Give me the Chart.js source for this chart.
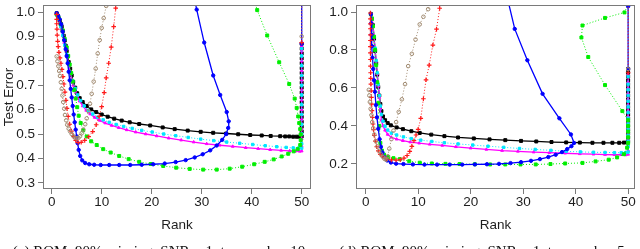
<!DOCTYPE html>
<html>
<head>
<meta charset="utf-8">
<script src="https://cdn.jsdelivr.net/npm/chart.js@4.4.1/dist/chart.umd.min.js"></script>
<style>
  html, body { margin: 0; padding: 0; background: #fff; }
  body { width: 640px; height: 249px; position: relative; overflow: hidden; }
  .panel { position: absolute; top: 0; width: 320px; height: 249px; }
  .caption {
    position: absolute; top: 244px; font-family: "Liberation Serif", "DejaVu Serif", serif;
    font-size: 15px; line-height: 15px; white-space: nowrap; color: #111; text-align: center;
  }
</style>
</head>
<body>
<div class="panel" style="left:0"><canvas id="chartC" width="320" height="249"></canvas></div>
<div class="panel" style="left:320px"><canvas id="chartD" width="320" height="249"></canvas></div>
<div class="caption" style="left:0;width:318px">(c) ROM, 90% missing, SNR = 1, true rank = 10</div>
<div class="caption" style="left:322px;width:320px">(d) ROM, 90% missing, SNR = 1, true rank = 5</div>
<script>
// --- tick labels ---
const rankTicks = [0, 10, 20, 30, 40, 50];
const errTicksC = [0.3, 0.4, 0.5, 0.6, 0.7, 0.8, 0.9, 1.0];
const errTicksD = [0.2, 0.4, 0.6, 0.8, 1.0];

// --- panel (c): [rank, test error] along each path ---
const blackC = [
  [1,0.995],[1.2,0.985],[1.4,0.975],[1.6,0.965],[1.8,0.952],[2.0,0.94],[2.2,0.922],[2.4,0.903],
  [2.6,0.883],[2.8,0.862],[3.0,0.84],[3.2,0.818],[3.4,0.795],[3.7,0.768],[4.0,0.74],[4.3,0.714],
  [4.7,0.69],[5.1,0.667],[5.6,0.647],[6.2,0.631],[7.0,0.615],[7.9,0.601],[8.9,0.59],[10.0,0.58],
  [11.2,0.571],[12.5,0.563],[14.0,0.555],[15.6,0.548],[17.5,0.541],[19.7,0.535],[22.2,0.527],
  [24.6,0.52],[27.2,0.514],[29.8,0.509],[32.3,0.505],[34.9,0.502],[37.3,0.499],[39.7,0.496],
  [42.0,0.494],[43.8,0.492],[45.7,0.491],[46.7,0.49],[47.5,0.49],[48.3,0.489],[49.0,0.489],
  [49.6,0.489],[50,0.49],[50,0.51],[50,0.53],[50,0.55],[50,0.57],[50,0.59],[50,0.61],[50,0.63],
  [50,0.65],[50,0.67],[50,0.69],[50,0.71],[50,0.73],[50,0.75],[50,0.77],[50,0.79],[50,0.81],
  [50,0.83],[50,0.85],[50,0.87]
];
const magentaC = [
  [1,0.99],[1.3,0.975],[1.6,0.955],[1.9,0.93],[2.2,0.905],[2.5,0.875],[2.8,0.845],[3.1,0.815],
  [3.4,0.785],[3.7,0.755],[4.0,0.725],[4.3,0.7],[4.7,0.675],[5.1,0.655],[5.6,0.635],[6.2,0.615],
  [6.9,0.597],[7.7,0.582],[8.6,0.568],[9.6,0.556],[10.7,0.545],[12.0,0.535],[13.4,0.526],
  [15.0,0.517],[16.8,0.508],[18.8,0.5],[21.0,0.492],[23.4,0.483],[25.9,0.475],[28.4,0.467],
  [31.0,0.46],[33.6,0.454],[36.2,0.449],[38.8,0.444],[41.3,0.44],[43.7,0.436],[45.9,0.433],
  [47.6,0.431],[48.8,0.43],[49.6,0.429],[50,0.43],[50,0.45],[50,0.48],[50,0.52],[50,0.56],
  [50,0.6],[50,0.64],[50,0.68],[50,0.72],[50,0.76],[50,0.8],[50,0.84],[50,0.86]
];
const cyanC = [
  [1,0.99],[1.4,0.97],[1.8,0.94],[2.2,0.905],[2.6,0.865],[3.0,0.825],[3.4,0.787],[3.8,0.75],
  [4.2,0.717],[4.7,0.687],[5.2,0.66],[5.8,0.637],[6.5,0.615],[7.3,0.597],[8.2,0.582],[9.2,0.569],
  [10.3,0.558],[11.5,0.548],[12.9,0.539],[14.4,0.531],[16.1,0.523],[18.0,0.515],[20.1,0.508],
  [22.4,0.5],[24.8,0.493],[27.3,0.486],[29.8,0.479],[32.4,0.473],[35.0,0.467],[37.6,0.462],
  [40.2,0.457],[42.7,0.452],[45.0,0.448],[46.9,0.445],[48.3,0.443],[49.3,0.442],[50,0.442],
  [50,0.46],[50,0.5],[50,0.54],[50,0.58],[50,0.62],[50,0.66],[50,0.7],[50,0.74],[50,0.78],
  [50,0.82],[50,0.85]
];
const greenC = [
  [1,0.99],[1.4,0.975],[1.8,0.95],[2.2,0.925],[2.6,0.89],[3.0,0.855],[3.3,0.82],[3.6,0.785],
  [3.9,0.75],[4.2,0.715],[4.5,0.68],[4.8,0.645],[5.1,0.61],[5.4,0.575],[5.8,0.545],[6.3,0.515],
  [7.0,0.49],[7.9,0.47],[9.0,0.455],[10.3,0.438],[11.8,0.424],[13.5,0.41],[15.4,0.397],
  [17.5,0.386],[19.8,0.377],[22.3,0.369],[24.9,0.362],[27.6,0.357],[30.3,0.354],[33.0,0.354],
  [35.6,0.358],[38.1,0.366],[40.5,0.376],[42.6,0.386],[44.4,0.396],[46.0,0.408],[47.3,0.419],
  [48.4,0.429],[49.2,0.438],[49.7,0.455],[49.8,0.475],[49.8,0.498],[49.7,0.52],[49.5,0.545],
  [49.3,0.572],[49.0,0.607],[48.6,0.645],[47.5,0.705],[45.5,0.794],[43.1,0.904],[41.1,1.008],
  [40.5,1.05]
];
const blueC = [
  [1,0.995],[1.3,0.985],[1.6,0.97],[1.9,0.95],[2.2,0.92],[2.5,0.885],[2.8,0.848],[3.0,0.82],
  [3.2,0.79],[3.4,0.755],[3.6,0.72],[3.8,0.685],[4.0,0.65],[4.2,0.615],[4.4,0.58],[4.6,0.548],
  [4.8,0.518],[5.0,0.49],[5.2,0.462],[5.4,0.435],[5.7,0.41],[6.1,0.392],[6.7,0.381],[7.5,0.376],
  [8.5,0.374],[9.8,0.373],[11.5,0.373],[13.5,0.373],[15.7,0.373],[18.0,0.374],[20.3,0.376],
  [22.6,0.379],[24.8,0.385],[26.8,0.393],[28.6,0.404],[30.2,0.417],[31.7,0.433],[33.0,0.453],
  [34.1,0.476],[34.9,0.5],[35.3,0.525],[35.4,0.552],[35.0,0.59],[33.7,0.66],[32.3,0.74],
  [30.5,0.875],[29.0,1.01],[28.4,1.07],[50,1.07],[50,0.87]
];
const redC = [
  [1,0.99],[1,0.97],[1,0.952],[1.05,0.93],[1.1,0.905],[1.2,0.88],[1.3,0.858],[1.45,0.835],
  [1.65,0.812],[1.85,0.79],[2.05,0.765],[2.25,0.735],[2.45,0.705],[2.65,0.672],[2.85,0.638],
  [3.05,0.605],[3.3,0.572],[3.6,0.54],[3.95,0.512],[4.35,0.49],[4.8,0.474],[5.3,0.465],
  [5.9,0.466],[6.6,0.474],[7.4,0.489],[8.2,0.51],[8.9,0.538],[9.5,0.572],[10.0,0.612],
  [10.5,0.67],[10.9,0.73],[11.4,0.79],[11.9,0.856],[12.4,0.94],[12.8,1.016],[13.1,1.07],
  [50,1.07],[50,0.875]
];
const brownC = [
  [1,0.818],[1.15,0.798],[1.33,0.778],[1.5,0.758],[1.66,0.738],[1.83,0.712],[2.0,0.685],
  [2.15,0.658],[2.3,0.631],[2.5,0.604],[2.66,0.578],[2.9,0.556],[3.1,0.538],[3.4,0.522],
  [3.66,0.511],[4.0,0.5],[4.33,0.491],[4.66,0.485],[5.0,0.482],[5.33,0.484],[5.66,0.491],
  [6.0,0.503],[6.33,0.518],[6.7,0.54],[7.0,0.564],[7.33,0.594],[7.66,0.624],[8.0,0.665],
  [8.4,0.715],[8.8,0.768],[9.2,0.83],[9.6,0.885],[10.0,0.935],[10.4,0.975],[10.9,1.025],
  [11.2,1.07],[50,1.07],[50,0.9]
];

// --- panel (d) ---
const blackD = [
  [1,0.99],[1.2,0.965],[1.4,0.93],[1.6,0.86],[1.8,0.795],[2.0,0.73],[2.2,0.67],[2.4,0.605],
  [2.6,0.56],[2.8,0.515],[3.0,0.478],[3.3,0.45],[3.7,0.43],[4.2,0.415],[4.8,0.403],[5.9,0.392],
  [7.1,0.383],[8.7,0.372],[10.3,0.363],[12.5,0.354],[15.0,0.346],[17.6,0.339],[20.6,0.334],
  [23.6,0.329],[26.6,0.325],[29.6,0.321],[32.5,0.318],[35.4,0.315],[38.2,0.313],[40.8,0.312],
  [43.2,0.311],[45.3,0.311],[47.0,0.311],[48.3,0.311],[49.2,0.312],[49.8,0.313],[50,0.32],
  [50,0.34],[50,0.36],[50,0.38],[50,0.4],[50,0.42],[50,0.44],[50,0.46],[50,0.48],[50,0.5],
  [50,0.52],[50,0.54],[50,0.56],[50,0.58],[50,0.6],[50,0.62],[50,0.64],[50,0.66],[50,0.68],
  [50,0.7]
];
const magentaD = [
  [1,0.99],[1.2,0.965],[1.4,0.925],[1.6,0.87],[1.8,0.805],[2.0,0.74],[2.2,0.675],[2.4,0.61],
  [2.6,0.55],[2.8,0.49],[3.0,0.43],[3.3,0.4],[3.7,0.377],[4.2,0.355],[4.9,0.34],[5.9,0.33],
  [7.1,0.322],[8.5,0.315],[10.2,0.309],[12.2,0.303],[14.6,0.297],[17.2,0.29],[20.0,0.283],
  [23.0,0.276],[26.0,0.27],[29.0,0.266],[32.0,0.262],[35.0,0.259],[38.0,0.256],[40.8,0.253],
  [43.4,0.251],[45.6,0.249],[47.4,0.248],[48.7,0.248],[49.5,0.247],[50,0.25],[50,0.27],
  [50,0.3],[50,0.33],[50,0.36],[50,0.39],[50,0.42],[50,0.45],[50,0.48],[50,0.51],[50,0.54],
  [50,0.57],[50,0.6],[50,0.63],[50,0.67]
];
const cyanD = [
  [1,0.99],[1.2,0.965],[1.4,0.925],[1.6,0.87],[1.8,0.81],[2.0,0.745],[2.2,0.68],[2.4,0.62],
  [2.6,0.56],[2.8,0.505],[3.0,0.46],[3.3,0.425],[3.7,0.398],[4.2,0.378],[4.9,0.362],[5.9,0.352],
  [7.2,0.342],[8.7,0.333],[10.5,0.325],[12.6,0.318],[15.0,0.311],[17.6,0.305],[20.4,0.299],
  [23.3,0.293],[26.3,0.287],[29.3,0.281],[32.3,0.276],[35.3,0.271],[38.2,0.266],[40.9,0.263],
  [43.4,0.261],[45.6,0.26],[47.4,0.259],[48.7,0.259],[49.5,0.259],[50,0.262],[50,0.29],
  [50,0.32],[50,0.35],[50,0.38],[50,0.41],[50,0.44],[50,0.47],[50,0.5],[50,0.53],[50,0.56],
  [50,0.59],[50,0.62],[50,0.66]
];
const greenD = [
  [1,0.99],[1.2,0.965],[1.4,0.925],[1.6,0.87],[1.8,0.8],[2.0,0.72],[2.2,0.63],[2.4,0.52],
  [2.6,0.4],[2.8,0.31],[3.1,0.27],[3.5,0.248],[4.3,0.236],[5.3,0.23],[6.5,0.225],[8.3,0.214],
  [10.3,0.206],[12.6,0.202],[15.2,0.2],[17.9,0.199],[20.8,0.198],[23.7,0.197],[26.6,0.197],
  [29.5,0.197],[32.4,0.197],[35.2,0.199],[38.0,0.202],[41.3,0.205],[43.8,0.213],[46.3,0.222],
  [47.9,0.234],[49.2,0.251],[49.8,0.285],[50,0.31],[50,0.34],[50,0.37],[50,0.4],[50,0.43],
  [48.9,0.478],[45.6,0.615],[42.4,0.763],[41.1,0.866],[41.3,0.929],[45.6,0.969],[49.3,0.998],
  [50,1.04],[50,1.1]
];
const blueD = [
  [1,0.99],[1.05,0.94],[1.1,0.88],[1.2,0.82],[1.3,0.76],[1.45,0.7],[1.6,0.64],[1.76,0.58],
  [1.95,0.51],[2.15,0.445],[2.4,0.385],[2.65,0.33],[2.9,0.29],[3.2,0.26],[3.6,0.235],[4.1,0.218],
  [4.8,0.207],[5.8,0.201],[7.2,0.199],[9.0,0.197],[11.2,0.196],[13.6,0.196],[16.0,0.196],
  [18.4,0.196],[20.8,0.197],[23.1,0.198],[25.4,0.2],[27.6,0.204],[29.6,0.209],[31.5,0.216],
  [33.2,0.225],[34.8,0.236],[36.2,0.248],[37.4,0.262],[38.4,0.278],[39.2,0.293],[39.7,0.31],
  [39.1,0.355],[36.9,0.44],[33.7,0.569],[30.8,0.746],[28.4,0.911],[27.2,1.05],[27.0,1.1],
  [50,1.1],[50,1.03],[50,0.7]
];
const redD = [
  [0.9,0.995],[0.9,0.964],[0.9,0.938],[0.9,0.912],[0.9,0.88],[0.9,0.85],[0.9,0.818],[0.9,0.785],
  [0.92,0.75],[0.92,0.715],[0.95,0.68],[0.97,0.65],[1.0,0.62],[1.05,0.585],[1.1,0.55],
  [1.15,0.515],[1.2,0.48],[1.3,0.445],[1.4,0.41],[1.5,0.38],[1.65,0.35],[1.85,0.32],[2.1,0.29],
  [2.4,0.268],[2.8,0.25],[3.3,0.236],[4.0,0.226],[4.9,0.221],[5.8,0.22],[6.6,0.222],[7.3,0.23],
  [7.9,0.244],[8.4,0.266],[8.8,0.292],[9.2,0.322],[9.6,0.352],[10.0,0.382],[10.5,0.44],
  [11.0,0.543],[11.5,0.643],[12.1,0.72],[12.8,0.826],[13.5,0.91],[14.1,1.02],[14.4,1.1],
  [50,1.1],[50,0.68]
];
const brownD = [
  [0.6,0.59],[0.7,0.56],[0.8,0.526],[0.95,0.49],[1.1,0.457],[1.25,0.42],[1.44,0.388],
  [1.65,0.355],[1.95,0.32],[2.25,0.292],[2.6,0.268],[2.95,0.25],[3.3,0.236],[3.6,0.226],
  [3.9,0.222],[4.2,0.24],[4.5,0.28],[4.9,0.33],[5.3,0.375],[5.8,0.42],[6.3,0.474],[6.9,0.54],
  [7.5,0.62],[8.1,0.715],[8.8,0.78],[9.5,0.855],[10.3,0.935],[11.0,0.975],[11.9,1.015],
  [12.5,1.1],[50,1.1],[50,0.7]
];

// --- styles (first entry is drawn on top) ---
const styles = [
  { key: "brown",   color: "#a08a70", width: 1,   dash: [1, 2], point: "circle",   radius: 1.8, fill: "rgba(255,255,255,0)" },
  { key: "red",     color: "#ff1a1a", width: 1,   dash: [1, 2], point: "cross",    radius: 2.3, fill: "#ff1a1a" },
  { key: "blue",    color: "#0000ff", width: 1.3, dash: [],     point: "circle",   radius: 1.7, fill: "#0000ff" },
  { key: "green",   color: "#00ee00", width: 1,   dash: [1, 2], point: "rect",     radius: 2.1, fill: "#00ee00" },
  { key: "cyan",    color: "#00e5ff", width: 1,   dash: [1, 2], point: "rect",     radius: 1.7, fill: "#00e5ff" },
  { key: "magenta", color: "#ff00ff", width: 1.3, dash: [],     point: "triangle", radius: 1.6, fill: "#ff00ff" },
  { key: "black",   color: "#000000", width: 1.3, dash: [],     point: "rect",     radius: 2.1, fill: "#000000" }
];

const tickFont = { family: "'Liberation Sans', Arial, sans-serif", size: 13.5 };
const inkColor = "#1e1e1e";
const frameColor = "#7a7a7a";

// box round the plot area, like R's box()
const boxPlugin = {
  id: "box",
  afterDatasetsDraw(chart) {
    const { ctx, chartArea: a } = chart;
    ctx.save();
    ctx.strokeStyle = frameColor;
    ctx.lineWidth = 1;
    ctx.strokeRect(Math.round(a.left) + 0.5, Math.round(a.top) + 0.5,
      Math.round(a.right - a.left) - 1, Math.round(a.bottom - a.top) - 1);
    ctx.restore();
  }
};

function makeChart(id, series, cfg) {
  const datasets = styles.map(s => ({
    label: s.key,
    data: series[s.key].map(p => ({ x: p[0], y: p[1] })),
    showLine: true,
    borderColor: s.color,
    borderWidth: s.width,
    borderDash: s.dash,
    tension: 0,
    pointStyle: s.point,
    pointRadius: s.radius,
    pointBorderWidth: s.point === "cross" ? 1.2 : 1,
    pointBorderColor: s.color,
    pointBackgroundColor: s.fill
  }));

  return new Chart(document.getElementById(id), {
    type: "scatter",
    data: { datasets },
    options: {
      responsive: false,
      animation: false,
      events: [],
      devicePixelRatio: 1,
      layout: { padding: { left: 0, top: cfg.top, right: cfg.right, bottom: 0 } },
      plugins: { legend: { display: false }, tooltip: { enabled: false } },
      scales: {
        x: {
          type: "linear",
          min: cfg.xMin,
          max: cfg.xMax,
          afterBuildTicks: ax => { ax.ticks = rankTicks.map(v => ({ value: v })); },
          afterFit: ax => {
            ax.height = 249 - cfg.bottom;
            ax.paddingLeft = 0; ax.paddingRight = 0;
          },
          ticks: { autoSkip: false, maxRotation: 0, padding: 0, color: inkColor, font: tickFont, callback: v => String(v) },
          grid: { display: true, drawOnChartArea: false, drawTicks: true, tickLength: 5, color: frameColor },
          border: { display: false },
          title: { display: true, text: "Rank", color: inkColor, font: tickFont, padding: { top: 0, bottom: 16 } }
        },
        y: {
          type: "linear",
          min: cfg.yMin,
          max: cfg.yMax,
          afterBuildTicks: ax => { ax.ticks = cfg.yTicks.map(v => ({ value: v })); },
          afterFit: ax => {
            ax.width = cfg.left;
            ax.paddingTop = 0; ax.paddingBottom = 0;
          },
          ticks: { autoSkip: false, padding: 3, color: inkColor, font: tickFont, callback: v => v.toFixed(1) },
          grid: { display: true, drawOnChartArea: false, drawTicks: true, tickLength: 5, color: frameColor },
          border: { display: false },
          title: { display: !!cfg.yTitle, text: cfg.yTitle || "", color: inkColor, font: tickFont, padding: { top: 1, bottom: 0 } }
        }
      }
    },
    plugins: [boxPlugin]
  });
}

makeChart("chartC",
  { black: blackC, magenta: magentaC, cyan: cyanC, green: greenC, blue: blueC, red: redC, brown: brownC },
  { left: 43, right: 9, top: 1, bottom: 189, xMin: -1.74, xMax: 51.86, yMin: 0.2746, yMax: 1.028,
    yTicks: errTicksC, yTitle: "Test Error" });

makeChart("chartD",
  { black: blackD, magenta: magentaD, cyan: cyanD, green: greenD, blue: blueD, red: redD, brown: brownD },
  { left: 36, right: 4, top: 1, bottom: 189, xMin: -1.84, xMax: 51.27, yMin: 0.0675, yMax: 1.036,
    yTicks: errTicksD, yTitle: "" });
</script>
</body>
</html>
